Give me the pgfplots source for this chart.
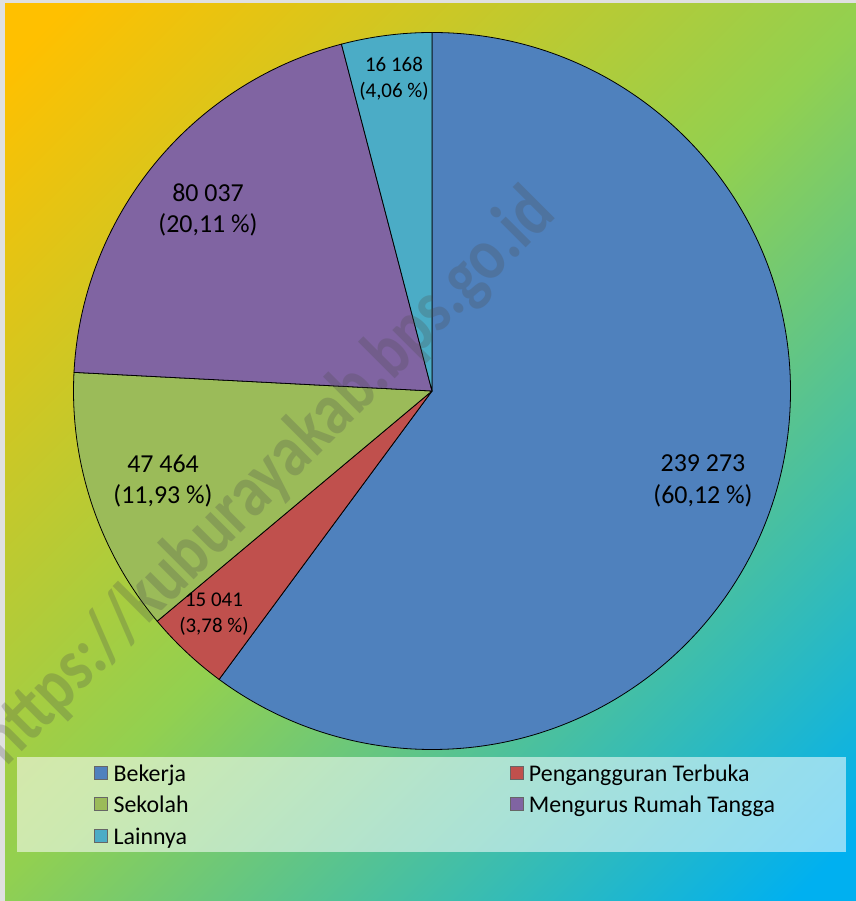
\documentclass[border=0pt]{standalone}
\usepackage{fontspec}
\setmainfont{Carlito}
\usepackage{pgfplots}
\usepackage{pgfplotstable}
\pgfplotsset{compat=1.18}

\definecolor{cBek}{HTML}{4F81BD}
\definecolor{cPen}{HTML}{C0504D}
\definecolor{cSek}{HTML}{9BBB59}
\definecolor{cMen}{HTML}{8064A2}
\definecolor{cLai}{HTML}{4BACC6}
\definecolor{bgA}{HTML}{FFC000}
\definecolor{bgB}{HTML}{92D050}
\definecolor{bgC}{HTML}{00B0F0}

\pgfdeclarehorizontalshading{bgshade}{100bp}{color(0bp)=(bgA); color(17bp)=(bgA); color(50bp)=(bgB); color(83bp)=(bgC); color(100bp)=(bgC)}

% penduduk usia kerja menurut kegiatan
\pgfplotstableread[col sep=comma]{
name,value,col
Bekerja,239273,cBek
Pengangguran Terbuka,15041,cPen
Sekolah,47464,cSek
Mengurus Rumah Tangga,80037,cMen
Lainnya,16168,cLai
}\piedata

% sum of values
\xdef\total{0}
\pgfplotsinvokeforeach{0,...,4}{%
  \pgfplotstablegetelem{#1}{value}\of\piedata\let\val\pgfplotsretval
  \begingroup
  \pgfkeys{/pgf/fpu=true,/pgf/fpu/output format=fixed}%
  \pgfmathparse{\total+\val}\xdef\total{\pgfmathresult}%
  \endgroup}

% start/end angle of slice #1 (clockwise from top)
\xdef\cum{0}
\newcommand\getslice[1]{%
  \pgfplotstablegetelem{#1}{value}\of\piedata\let\val\pgfplotsretval
  \pgfplotstablegetelem{#1}{col}\of\piedata\let\scol\pgfplotsretval
  \begingroup
  \pgfkeys{/pgf/fpu=true,/pgf/fpu/output format=fixed}%
  \pgfmathparse{90-360*\cum/\total}\xdef\angA{\pgfmathresult}%
  \pgfmathparse{\cum+\val}\xdef\cum{\pgfmathresult}%
  \pgfmathparse{90-360*\cum/\total}\xdef\angB{\pgfmathresult}%
  \endgroup}

\pgfplotsset{sq legend/.style={legend image code/.code={%
  \filldraw[##1] (0bp,-8.75bp) rectangle (13bp,4.25bp);}}}
\newcommand\lstrut{\rule[-8bp]{0pt}{31.5bp}}

\begin{document}
\begin{tikzpicture}
\begin{axis}[
  hide axis, scale only axis,
  width=856bp, height=901bp,
  xmin=0, xmax=856, ymin=0, ymax=901,
  legend columns=2,
  legend cell align=left,
  legend style={at={(0.1098,0.1593)}, anchor=north west,
    draw=none, fill=none, inner sep=0pt, row sep=6.5bp,
    font=\fontsize{24}{28.8}\selectfont,
    nodes={inner sep=0pt},
    /tikz/every odd column/.append style={column sep=6bp}},
]
% background
\fill[black!12] (axis cs:0,0) rectangle (axis cs:856,901);
\shade[shading=bgshade, shading angle=-45] (axis cs:5,0) rectangle (axis cs:856,897);

% slices
\pgfplotsinvokeforeach{0,...,4}{
  \getslice{#1}
  \edef\doslice{\noexpand\filldraw[fill=\scol, draw=black, line width=0.8bp, line join=round]
    (axis cs:432,510) -- ++(\angA:358.5bp) arc[start angle=\angA, end angle=\angB, radius=358.5bp] -- cycle;}
  \doslice
}

% watermark
\node[rotate=45, text=black!70, text opacity=0.26, font=\bfseries]
  at (axis cs:268,423) {\scalebox{1}[1.2]{\resizebox{780bp}{!}{https://kuburayakab.bps.go.id}}};

% data labels
\node[align=center, font=\fontsize{26}{32}\selectfont] at (axis cs:703,420) {239 273\\(60,12 \%)};
\node[align=center, font=\fontsize{21}{26}\selectfont] at (axis cs:214,287) {15 041\\(3,78 \%)};
\node[align=center, font=\fontsize{26}{32}\selectfont] at (axis cs:163,420) {47 464\\(11,93 \%)};
\node[align=center, font=\fontsize{26}{32}\selectfont] at (axis cs:208,691) {80 037\\(20,11 \%)};
\node[align=center, font=\fontsize{21}{26}\selectfont] at (axis cs:394,822) {16 168\\(4,06 \%)};

% legend panel
\fill[white, opacity=0.55] (axis cs:17,49) rectangle (axis cs:846,144);

\addlegendimage{sq legend, fill=cBek, draw=black!60}
\addlegendentry{\makebox[396bp][l]{Bekerja\lstrut}}
\addlegendimage{sq legend, fill=cPen, draw=black!60}
\addlegendentry{Pengangguran Terbuka\lstrut}
\addlegendimage{sq legend, fill=cSek, draw=black!60}
\addlegendentry{\makebox[396bp][l]{Sekolah\lstrut}}
\addlegendimage{sq legend, fill=cMen, draw=black!60}
\addlegendentry{Mengurus Rumah Tangga\lstrut}
\addlegendimage{sq legend, fill=cLai, draw=black!60}
\addlegendentry{\makebox[396bp][l]{Lainnya\lstrut}}
\end{axis}
\pgfresetboundingbox
\useasboundingbox (current axis.south west) rectangle (current axis.north east);
\end{tikzpicture}
\end{document}
